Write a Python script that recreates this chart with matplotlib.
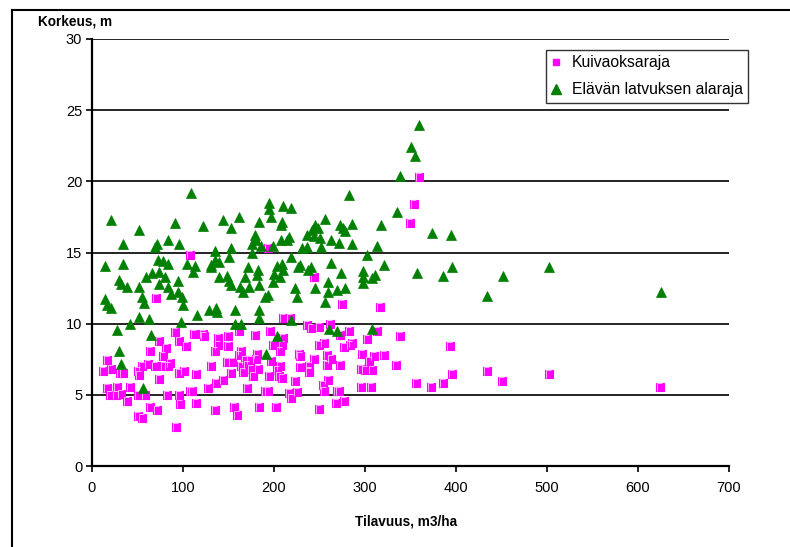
import matplotlib
matplotlib.use("Agg")
import matplotlib.pyplot as plt
from matplotlib.lines import Line2D
from matplotlib.path import Path

plt.rcParams['font.family'] = ['Liberation Sans', 'DejaVu Sans']

# Kuivaoksaraja (pink squares): tilavuus m3/ha, korkeus m
kuiva_x = [70, 108, 91, 74, 96, 81, 103, 64, 78, 17, 12.5, 21, 31, 34, 55, 61, 51, 52, 69, 79,
           86, 83, 96, 101, 74, 16, 28, 42, 20, 26, 32, 50, 58, 82, 96, 108, 39, 97, 64, 71,
           51, 55, 92,
           193, 210, 218, 236, 112, 122, 123, 103, 139, 150, 162, 179, 196, 210, 150, 139, 135, 164, 161, 181, 199,
           207, 209, 227, 229, 114, 131, 148, 154, 153, 168, 170, 174, 180, 164, 166, 175, 177, 182, 194, 197,
           203, 207, 205, 209, 223, 229, 238, 136, 144, 127, 110, 170, 190, 193, 217, 225, 219, 114, 135, 156,
           159, 184, 202,
           359, 354, 350, 244, 275, 317, 241, 249, 262, 282, 273, 313, 302, 339, 249, 255, 277, 284, 286, 244,
           258, 263, 297, 304, 310, 321, 334, 239, 239, 258, 273, 296, 300, 308, 259, 254, 255, 269, 271, 296,
           307, 356, 372, 268, 277, 250,
           393, 396, 386, 434, 451, 502, 624]
kuiva_y = [11.8, 14.8, 9.4, 8.8, 8.8, 8.3, 8.4, 8.1, 7.7, 7.45, 6.7, 6.85, 6.55, 6.55, 7.0, 7.15, 6.7, 6.4, 7.0, 7.0,
           7.25, 7.0, 6.5, 6.7, 6.1, 5.45, 5.55, 5.55, 5.0, 5.0, 5.05, 5.0, 5.0, 5.0, 5.0, 5.3, 4.6, 4.35, 4.15, 3.95,
           3.5, 3.35, 2.75,
           15.3, 10.4, 10.4, 9.9, 9.3, 9.3, 9.1, 8.4, 9.0, 9.15, 9.5, 9.2, 9.5, 9.0, 8.45, 8.5, 8.1, 8.1, 7.8, 7.9, 8.5,
           8.1, 8.5, 7.9, 7.7, 6.45, 7.0, 7.3, 7.3, 6.5, 7.45, 7.1, 7.45, 7.55, 7.0, 6.6, 6.85, 6.35, 6.85, 6.3, 7.35,
           6.75, 7.0, 6.3, 6.15, 6.0, 6.95, 6.7, 5.85, 6.05, 5.45, 5.3, 5.45, 5.3, 5.3, 5.15, 5.2, 4.75, 4.45, 3.95, 4.15,
           3.6, 4.15, 4.15,
           20.3, 18.4, 17.05, 13.3, 11.35, 11.2, 9.7, 9.8, 9.95, 9.5, 9.2, 9.45, 8.95, 9.15, 8.5, 8.65, 8.35, 8.5, 8.65, 7.55,
           7.8, 7.55, 7.85, 7.4, 7.7, 7.8, 7.1, 7.0, 6.6, 7.1, 7.1, 6.85, 6.75, 6.75, 6.05, 5.7, 5.25, 5.25, 5.25, 5.55,
           5.55, 5.85, 5.55, 4.45, 4.6, 4.0,
           8.4, 6.45, 5.85, 6.7, 6.0, 6.45, 5.55]

# Elävän latvuksen alaraja (green triangles)
elava_x = [20.5, 51.6, 91, 34, 71, 69.6, 83, 95.6, 14, 33.7, 73, 78.4, 83, 104, 29.7, 32, 39, 51.6, 59, 65.6,
           73.3, 80.6, 73.6, 83, 87, 95, 94, 99, 100, 14, 17, 20.5, 55, 57, 42, 51.6, 63, 98, 27.5, 65,
           29.7, 31.5, 56.4,
           109, 194.5, 194.5, 210, 218.7, 196.7, 162, 144, 122, 152.7, 183.5, 209, 207.5, 179.5, 180, 207.5, 214, 217,
           236, 185.7, 199, 175.4, 152.7, 175.7, 230.4, 236, 135.5, 135, 113, 110.8, 130.4, 140, 150.5, 130.7, 171.8,
           182, 181, 168, 203, 208.5, 218.7, 210, 200, 206.6, 226.7, 228.6, 237.7, 139.5, 148, 150.5, 152.7, 162.6,
           166.3, 172.9, 183.5, 199, 190, 193.8, 223, 224.9, 115, 129, 136.3, 137, 157, 183.5, 183.5, 157, 163.7,
           218.7, 203.6, 191,
           359.3, 350.5, 355, 338.5, 282.8, 335.5, 317.6, 374, 394, 256, 245, 241.4, 248.7, 243.6, 251, 272.5, 276.2,
           285.3, 277.7, 262.3, 271.8, 286, 251.3, 312.8, 302, 321.2, 356.8, 262.3, 240.7, 273.6, 298, 298, 311,
           307.3, 259.7, 298, 245, 268.9, 277.7, 259.7, 256, 260.8, 268.9, 307.3,
           396, 386, 452, 502, 434.4, 625.3]
elava_y = [17.3, 16.6, 17.05, 15.6, 15.6, 15.4, 15.9, 15.6, 14.05, 14.2, 14.5, 14.4, 14.2, 14.2, 13.05, 12.8, 12.55, 12.6, 13.25, 13.55,
           13.6, 13.3, 12.8, 12.55, 12.1, 13.0, 12.2, 11.9, 11.3, 11.7, 11.3, 11.1, 11.85, 11.45, 10.0, 10.45, 10.3, 10.15, 9.55, 9.2,
           8.05, 7.2, 5.45,
           19.2, 18.45, 18.05, 18.25, 18.1, 17.5, 17.5, 17.3, 16.85, 16.7, 17.15, 17.15, 16.9, 16.25, 15.9, 15.9, 15.9, 16.1,
           16.2, 15.45, 15.45, 15.6, 15.3, 14.95, 15.3, 15.4, 15.1, 14.5, 14.05, 13.65, 14.15, 14.35, 14.65, 13.95, 13.95,
           13.75, 13.4, 13.3, 14.05, 14.2, 14.65, 13.75, 13.5, 13.3, 13.95, 14.1, 13.8, 13.25, 13.35, 13.0, 12.7, 12.6,
           12.25, 12.55, 12.7, 12.95, 11.9, 12.0, 12.5, 11.9, 10.6, 10.95, 11.1, 10.8, 10.95, 10.95, 10.4, 10.0, 10.0,
           10.25, 9.15, 7.9,
           23.95, 22.4, 21.8, 20.35, 19.05, 17.85, 16.9, 16.4, 16.2, 17.35, 16.95, 16.6, 16.7, 16.15, 16.0, 16.95, 16.7,
           17.0, 16.5, 15.9, 15.65, 15.6, 15.4, 15.45, 14.8, 14.1, 13.55, 14.25, 13.95, 13.55, 13.7, 13.3, 13.4,
           13.2, 12.95, 12.85, 12.5, 12.4, 12.5, 12.2, 11.55, 9.65, 9.45, 9.65,
           13.95, 13.35, 13.35, 13.95, 11.95, 12.25]

x_ticks = [0, 100, 200, 300, 400, 500, 600, 700]
y_ticks = [0, 5, 10, 15, 20, 25, 30]

W, H = 790, 547
fig = plt.figure(figsize=(W / 100, H / 100), dpi=100)
ax = fig.add_axes([92 / W, 1 - 466 / H, (729 - 92) / W, (466 - 39) / H])

# excel style square marker with a light glint inside
glint = Path([(-0.25, -0.35), (-0.25, 0.3), (0.15, 0.3)], [Path.MOVETO, Path.LINETO, Path.LINETO])

ax.plot(kuiva_x, kuiva_y, ls='none', marker='s', ms=6, mfc='#FF00FF', mec='#FF00FF', mew=0.8, zorder=3)
ax.plot(kuiva_x, kuiva_y, ls='none', marker=glint, ms=6, mfc='none', mec='#FFB0FF', mew=0.7, zorder=3)
ax.plot(elava_x, elava_y, ls='none', marker='^', ms=7.8, mfc='#008000', mec='#008000', mew=0.5, zorder=4)

ax.set_xlim(0, 700)
ax.set_ylim(0, 30)
ax.set_xticks(x_ticks)
ax.set_yticks(y_ticks)
ax.grid(axis='y', color='black', lw=1.2)
ax.set_axisbelow(True)
for s in ['top', 'right']:
    ax.spines[s].set_visible(False)
for s in ['left', 'bottom']:
    ax.spines[s].set_linewidth(1.6)
ax.tick_params(direction='out', length=4, width=1.2, labelsize=10.5, colors='black', pad=3)
ax.tick_params(axis='x', pad=7)

fig.text(38 / W, 1 - 22 / H, 'Korkeus, m', fontsize=9.8, fontweight='bold', va='center', ha='left')
fig.text(406 / W, 1 - 521 / H, 'Tilavuus, m3/ha', fontsize=9.8, fontweight='bold', va='center', ha='center')

handles = [Line2D([], [], ls='none', marker='s', ms=5, mfc='#FF00FF', mec='#FF00FF'),
           Line2D([], [], ls='none', marker='^', ms=7, mfc='#008000', mec='#008000')]
leg = fig.legend(handles, ['Kuivaoksaraja', 'Elävän latvuksen alaraja'], loc='upper right',
                 bbox_to_anchor=(748 / W, 1 - 50 / H), fontsize=11.3, frameon=True, fancybox=False,
                 edgecolor='black', handlelength=0.6, handletextpad=0.7, borderpad=0.35,
                 labelspacing=0.75, borderaxespad=0)
leg.get_frame().set_linewidth(1.0)

# outer chart frame (only left and top edge fall inside the picture)
fig.add_artist(Line2D([12 / W, 12 / W], [0, 1 - 10 / H], color='black', lw=1.5, transform=fig.transFigure))
fig.add_artist(Line2D([12 / W, 1], [1 - 10 / H, 1 - 10 / H], color='black', lw=1.5, transform=fig.transFigure))

fig.savefig('out.png', dpi=100)
